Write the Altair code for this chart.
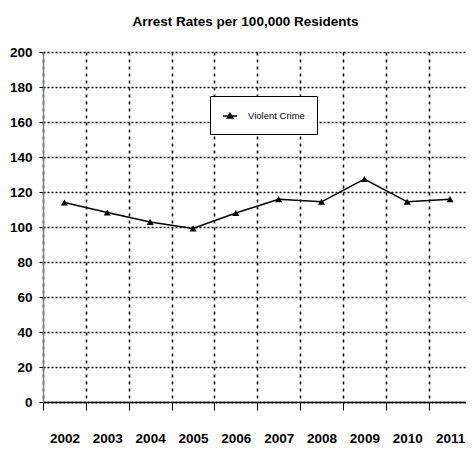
import altair as alt
import pandas as pd

years = ["2002", "2003", "2004", "2005", "2006", "2007", "2008", "2009", "2010", "2011"]
violent_crime = [114, 108.3, 102.9, 99.2, 108, 115.9, 114.4, 127.4, 114.4, 115.9]
series_name = ["Violent Crime"] * len(years)
y_ticks = [0, 20, 40, 60, 80, 100, 120, 140, 160, 180, 200]

df = pd.DataFrame({"year": years, "value": violent_crime, "series": series_name})

FONT = "Liberation Sans"

x_enc = alt.X(
    "year:N",
    sort=years,
    scale=alt.Scale(paddingInner=0, paddingOuter=0, range=[0, 428.5]),
    axis=alt.Axis(
        title=None,
        labelAngle=0,
        labelFont=FONT,
        labelFontWeight="bold",
        labelFontSize=13.5,
        labelColor="black",
        labelPadding=21,
        tickBand="extent",
        tickSize=8,
        tickColor="black",
        tickWidth=1,
        domainColor="black",
        domainWidth=1.5,
        grid=True,
        gridColor="black",
        gridDash=[3, 4],
        gridWidth=1.5,
    ),
)
y_enc = alt.Y(
    "value:Q",
    scale=alt.Scale(domain=[0, 200], nice=False),
    axis=alt.Axis(
        title=None,
        values=y_ticks,
        labelFont=FONT,
        labelFontWeight="bold",
        labelFontSize=13.5,
        labelColor="black",
        labelPadding=7,
        tickSize=4,
        tickColor="black",
        domainColor="#808080",
        domainWidth=1.5,
        grid=True,
        gridColor="black",
        gridDash=[2, 2],
        gridWidth=1.5,
    ),
)

line = alt.Chart(df).mark_line(color="black", strokeWidth=1.5).encode(x=x_enc, y=y_enc)

points = alt.Chart(df).mark_point(
    shape="triangle-up", filled=True, size=50, opacity=1
).encode(
    x=x_enc,
    y=y_enc,
    color=alt.Color(
        "series:N",
        scale=alt.Scale(range=["black"]),
        legend=alt.Legend(
            title=None,
            orient="none",
            legendX=167,
            legendY=44,
            fillColor="white",
            strokeColor="black",
            padding=12,
            labelFont=FONT,
            labelFontSize=9.5,
            labelColor="black",
            labelOffset=10,
            symbolType="M-1,0L1,0M-0.4,0.3L0,-0.4L0.4,0.3Z",
            symbolSize=196,
            symbolFillColor="black",
            symbolStrokeColor="black",
            symbolStrokeWidth=1.5,
            symbolOpacity=1,
        ),
    ),
)

chart = (
    alt.layer(line, points)
    .properties(
        width=423,
        height=350,
        title=alt.TitleParams(
            "Arrest Rates per 100,000 Residents",
            font=FONT,
            fontSize=13.5,
            fontWeight="bold",
            color="black",
            offset=17,
            dx=-9,
        ),
        autosize=alt.AutoSizeParams(type="none"),
        padding={"left": 35, "top": 44, "right": 0, "bottom": 50},
    )
    .configure_view(stroke=None)
)

chart.save("out.html", embed_options={"renderer": "svg", "actions": False})
